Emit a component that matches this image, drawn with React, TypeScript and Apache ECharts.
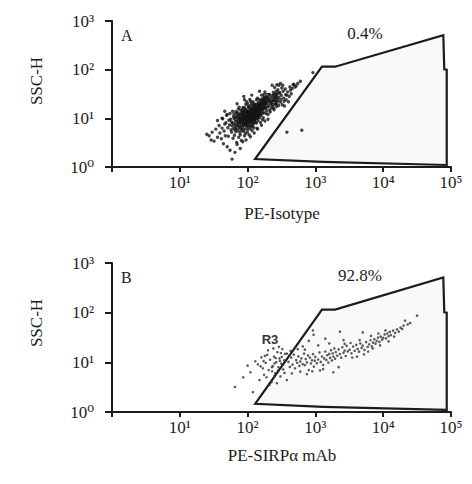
import React, { useEffect, useRef } from 'react';
import * as echarts from 'echarts';

// Gate R3 vertices (same gate in both panels)
const gateX = [129, 1250, 1950, 77000, 79600, 86500, 86500, 1300];
const gateY = [1.46, 115, 115, 510, 102, 100, 1.1, 1.27];

// Panel A: PE-Isotype vs SSC-H
const scatterA: [number, number][] = [
  [25,4.7],[27,4.4],[29,3.6],[30,5.2],[32,3.4],[34,6.0],[36,4.1],[38,7.1],[39,5.0],[36,9],
  [41,3.8],[42,6.3],[43,9.8],[44,3.0],[45,5.5],[46,7.6],[47,4.4],[48,8.1],[49,11.5],[50,2.6],
  [51,6.4],[52,4.3],[53,9.1],[54,7.3],[55,2.2],[55,12.6],[46,14],[42,10],[50,12],
  [56,9.6],[57,5.8],[58,5.2],[59,1.45],[59,7.0],[60,7.9],[61,3.9],[62,6.1],[62,10.9],[63,9.9],
  [64,4.5],[65,2.0],[65,6.9],[66,8.8],[67,5.3],[67,13.8],[68,10.8],[69,12.6],[69,3.2],[70,2.9],
  [70,7.2],[71,7.4],[72,5.6],[72,9.4],[73,8.0],[73,15.6],[74,11.5],[74,4.1],[75,6.4],[75,17.0],
  [60,14],[70,20],[76,9.8],[77,12.1],[77,5.1],[78,2.4],[78,4.6],[79,9.0],[79,14.8],[80,8.2],
  [80,6.0],[81,10.2],[81,3.5],[82,7.5],[82,11.8],[83,13.9],[83,5.6],[84,11.3],[84,8.6],[85,6.2],
  [85,3.3],[85,16.5],[86,7.0],[86,10.5],[87,5.4],[87,12.9],[88,9.5],[88,28],[89,11.9],[89,7.7],
  [90,13.4],[90,4.4],[90,24],[91,15.8],[91,9.3],[92,8.6],[92,6.0],[93,4.9],[93,11.2],[94,10.1],
  [94,19.5],[95,7.8],[95,3.6],[96,9.2],[96,13.0],[97,6.7],[97,22.0],[98,13.6],[98,8.3],[99,12.9],
  [99,5.2],[100,20],[100,10.4],[101,5.9],[101,8.0],[102,14.2],[102,11.0],[103,8.9],[103,6.8],[104,10.6],
  [104,17.0],[105,16.9],[105,4.6],[106,11.8],[106,9.0],[107,9.9],[107,13.5],[108,7.1],[108,24.5],[109,12.2],
  [109,8.4],[110,6.2],[110,4.2],[111,18.6],[111,10.8],[112,9.1],[112,15.0],[113,10.0],[113,7.0],[114,8.3],
  [114,12.7],[115,30],[115,20.5],[116,14.6],[116,5.6],[117,13.0],[117,9.6],[118,6.9],[118,16.3],[119,11.0],
  [119,8.0],[120,12.4],[120,22],[121,7.6],[121,14.0],[122,17.8],[122,10.3],[123,9.4],[124,15.1],[124,6.4],
  [125,11.9],[125,5.0],[126,9.8],[126,19.8],[127,8.7],[127,13.7],[128,13.2],[128,11.1],[129,16.6],[130,11.2],
  [130,8.2],[131,14.4],[132,19.2],[133,10.0],[134,10.4],[135,8.0],[135,24.0],[136,12.0],[137,16.2],[138,6.3],
  [139,18.0],[140,13.8],[140,26],[140,6.0],[141,10.7],[142,9.0],[143,21.0],[144,14.2],[145,11.3],[146,12.3],
  [147,17.5],[148,15.6],[149,24.0],[150,10.3],[150,36],[151,19.8],[152,13.2],[153,20.5],[155,17.4],[155,8.2],
  [156,12.1],[157,13.6],[158,11.6],[160,21.8],[160,30],[160,7.2],[162,15.3],[163,25.1],[165,14.9],[166,9.4],
  [168,16.0],[170,12.8],[170,10.3],[172,20.4],[174,13.1],[176,19.6],[178,27.0],[180,22.2],[180,8.8],[180,35],
  [182,16.1],[185,16.7],[188,12.5],[190,28.5],[190,14.3],[192,20.0],[195,23.4],[198,17.0],[200,12.0],[200,9.6],
  [205,18.2],[208,25.0],[210,31.0],[212,14.7],[215,13.5],[218,20.1],[220,22.8],[223,16.3],[225,26.4],[228,19.0],
  [230,21.0],[230,48],[233,29.5],[235,17.6],[238,23.6],[240,34.2],[243,15.9],[245,15.0],[248,27.5],[250,24.6],
  [250,43],[253,19.8],[255,19.4],[258,31.8],[260,29.0],[263,22.4],[265,36.0],[268,17.5],[270,20.0],[270,49],
  [273,26.2],[277,32.0],[280,38.5],[283,23.0],[287,18.4],[290,27.2],[290,48],[295,34.0],[300,33.0],[305,52],
  [305,21.5],[310,24.5],[315,29.6],[320,42.0],[325,19.0],[330,48],[335,36.0],[340,26],[345,22.5],[350,18],
  [360,40],[365,30.5],[370,24.0],[380,30],[390,35.0],[400,22],[410,28.0],[420,44],[430,38.0],[440,32],
  [455,41.0],[470,49],[480,50],[500,44.0],[520,46],[550,52.0],[600,58],[380,5.2],[630,5.7],[920,87],
  [64,7.7],[68,6.3],[71,11.2],[76,7.1],[79,6.6],[83,9.4],[86,12.0],[88,7.3],[91,10.9],[93,7.2],
  [95,11.6],[97,9.8],[99,7.4],[101,11.9],[103,12.8],[105,8.1],[107,11.4],[109,10.1],[111,13.6],[113,8.6],
  [115,11.5],[117,15.4],[119,9.3],[121,11.6],[123,13.3],[125,9.0],[127,15.9],[129,10.2],[131,12.6],[133,16.8],
  [135,11.2],[137,13.9],[139,10.0],[141,15.7],[143,12.4],[145,17.8],[147,13.6],[149,11.7],[152,16.4],[154,14.2],
  [157,19.2],[159,15.0],[162,18.0],[165,21.0],[168,19.4],[171,15.6],[175,23.5],[179,18.5],[183,25.5],[187,21.6],
  [58,8.4],[63,12.3],[66,5.9],[72,13.0],[78,10.6],[84,14.6],[89,16.7],[96,15.1],[102,17.6],[110,22.5],
  [66,10.1],[70,8.6],[74,9.9],[77,8.3],[81,12.8],[85,9.9],[87,8.0],[90,11.0],[92,14.1],[94,8.0],
  [96,10.4],[98,11.2],[100,8.9],[102,9.6],[104,13.0],[106,10.3],[108,14.6],[110,9.4],[112,11.9],[114,15.9],
  [116,10.7],[118,12.5],[120,14.9],[122,12.1],[124,18.6],[126,14.5],[128,17.4],[132,13.8],[136,15.3],[140,17.0],
  [144,19.6],[148,14.4],[153,18.3],[158,22.8],[163,17.2],[170,24.4],[176,16.8],[185,20.2],[195,26.2],[205,22.0]
];

// Panel B: PE-SIRPα mAb vs SSC-H
const scatterB: [number, number][] = [
  [65,3.2],[86,5.0],[120,2.5],[142,9.1],[168,7.6],[100,8.6],[110,6.3],[130,10.5],[150,4.4],[160,12.6],
  [175,5.6],[185,9.8],[195,14.2],[205,7.0],[215,11.3],[225,4.0],[235,8.4],[245,13.0],[255,6.0],[265,10.1],
  [275,16.0],[285,8.0],[295,12.0],[305,5.2],[315,9.4],[325,18.5],[335,7.2],[345,11.0],[355,14.8],[270,3.8],
  [380,4.4],[200,17.5],[180,13.5],[240,19.0],[290,20.5],[210,3.5],[190,5.0],[230,6.6],[250,9.5],[260,12.2],
  [280,6.8],[300,10.7],[310,15.4],[330,9.0],[350,6.1],[156,8.3],[172,10.6],[228,8.0],[248,5.3],[320,12.9],
  [400,10.2],[420,8.1],[440,12.5],[460,9.0],[480,14.3],[500,7.6],[520,11.1],[540,9.8],[560,13.2],[580,8.5],
  [600,10.4],[620,12.0],[650,9.2],[680,15.0],[700,8.8],[720,11.6],[750,10.0],[780,13.8],[800,7.0],[830,12.4],
  [860,9.5],[890,11.0],[920,14.6],[950,8.2],[980,10.8],[1000,12.9],[1050,9.6],[1100,11.4],[1150,15.8],[1200,10.2],
  [1250,13.1],[1300,8.9],[1350,12.0],[1400,16.5],[1450,11.2],[1500,13.9],[1550,9.9],[1600,14.8],[1650,12.3],[1700,17.6],
  [1750,10.9],[1800,15.2],[1850,13.0],[1900,19.0],[1950,11.8],[2000,16.1],[2100,13.6],[2200,18.2],[2300,14.7],[2400,12.4],
  [2500,20.1],[2600,15.6],[2700,17.3],[2800,13.4],[2900,21.5],[3000,16.6],
  [450,6.0],[600,6.5],[750,5.8],[900,6.6],[1170,6.9],[1840,6.3],[1300,7.3],[2200,8.0],[700,18.0],[500,20.0],
  [920,44],[940,36],[2300,41.5],[5000,40],[1100,22],[1600,24],[800,27],[1400,30],[2600,28],[380,15],
  [430,17],[550,18.5],[650,21],
  [3200,18.0],[3400,15.2],[3600,20.8],[3800,17.1],[4000,22.5],[4200,18.6],[4400,16.4],[4600,24.0],[4800,19.5],[5000,21.7],
  [5300,17.8],[5600,25.6],[5900,20.4],[6200,23.1],[6500,27.8],[6800,21.0],[7100,25.0],[7400,29.4],[7700,23.8],[8000,27.0],
  [8400,31.5],[8800,25.8],[9200,33.0],[9600,28.6],[10000,31.0],[10500,36.5],[11000,30.2],[11500,38.0],[12000,33.6],[12500,41.0],
  [13000,35.4],[14000,43.5],[15000,39.0],[16000,46.0],[17000,41.5],[18000,50.0],[19000,47.0],[20000,55.0],[21000,69.0],[23000,58.0],
  [25000,62.0],[31600,87.0],[3300,24.5],[4500,28.0],[6000,16.5],[7000,19.0],[9000,22.0],[12000,26.5],[3500,12.5],[5200,14.5],
  [8500,38.0],[10800,44.0],[4100,13.0],[6600,34.0],[14500,33.0],[2700,23.5]
];

const panelLetters = ['A', 'B'];
const percentLabels = ['0.4%', '92.8%'];
const xTitles = ['PE-Isotype', 'PE-SIRPα mAb'];
const yTitle = 'SSC-H';
const gateLabel = 'R3';
const superDigits = ['⁰', '¹', '²', '³', '⁴', '⁵'];

const SERIF = '"Liberation Serif", "DejaVu Serif", serif';
const INK = '#1c1c1c';

const powFmt = (hideZero: boolean) => (v: number) => {
  const e = Math.round(Math.log10(v));
  if (hideZero && e === 0) return '';
  return '10' + superDigits[e];
};

export default function App() {
  const ref = useRef<HTMLDivElement>(null);
  useEffect(() => {
    if (!ref.current) return;
    const chart = echarts.init(ref.current, undefined, { renderer: 'svg' });
    const grids = [
      { left: 112, top: 21, width: 339, height: 146 },
      { left: 112, top: 263, width: 339, height: 149 },
    ];
    const gate = gateX.map((x, i) => [x, gateY[i]]);
    const labelStyle = { fontFamily: SERIF, fontSize: 17, color: INK };
    const xAxes = grids.map((_, i) => ({
      type: 'log', logBase: 10, gridIndex: i, min: 1, max: 100000,
      axisLine: { show: true, lineStyle: { color: INK, width: 2 } },
      axisTick: { show: true, length: 5, lineStyle: { color: INK, width: 2 } },
      axisLabel: { formatter: powFmt(true), margin: 7, ...labelStyle, showMinLabel: true, showMaxLabel: true },
      splitLine: { show: false }, minorTick: { show: false },
    }));
    const yAxes = grids.map((_, i) => ({
      type: 'log', logBase: 10, gridIndex: i, min: 1, max: 1000,
      axisLine: { show: true, lineStyle: { color: INK, width: 2 } },
      axisTick: { show: true, length: 7, lineStyle: { color: INK, width: 2 } },
      axisLabel: { formatter: powFmt(false), margin: 18, ...labelStyle, showMinLabel: true, showMaxLabel: true },
      splitLine: { show: false }, minorTick: { show: false },
    }));
    const gateSeries = grids.map((_, i) => ({
      type: 'custom', xAxisIndex: i, yAxisIndex: i, silent: true, z: 1, clip: false,
      data: gate,
      renderItem: (params: any, api: any) => {
        if (params.dataIndex !== 0) return null;
        const pts = gate.map((p) => api.coord(p));
        return {
          type: 'polygon', shape: { points: pts },
          style: { fill: '#f9f9f9', stroke: INK, lineWidth: 2.2, lineJoin: 'miter' },
        };
      },
    }));
    const scatterSeries = [scatterA, scatterB].map((d, i) => ({
      type: 'scatter', xAxisIndex: i, yAxisIndex: i, silent: true, z: 3,
      data: d, symbol: 'circle', symbolSize: i === 0 ? 3.4 : 2.6,
      itemStyle: { color: i === 0 ? '#151515' : '#333' },
    }));
    const tops = [0, 242];
    const graphic: any[] = [];
    tops.forEach((dy, i) => {
      graphic.push(
        { type: 'text', left: 121, top: 27 + dy, style: { text: panelLetters[i], font: `16px ${SERIF}`, fill: INK } },
        { type: 'text', x: i === 0 ? 365 : 360, y: 33 + dy, style: { text: percentLabels[i], font: `17px ${SERIF}`, fill: INK, align: 'center', verticalAlign: 'middle' } },
        { type: 'text', x: 36, y: 81 + dy, rotation: Math.PI / 2, style: { text: yTitle, font: `17px ${SERIF}`, fill: INK, align: 'center', verticalAlign: 'middle' } },
        { type: 'text', x: 282, y: 213 + dy, style: { text: xTitles[i], font: `17px ${SERIF}`, fill: INK, align: 'center', verticalAlign: 'middle' } },
        { type: 'text', x: 270, y: 97 + dy, z: 0, style: { text: gateLabel, font: `bold 13px "Liberation Sans", Arial, sans-serif`, fill: '#333', align: 'center', verticalAlign: 'middle' } },
      );
    });
    chart.setOption({
      animation: false,
      backgroundColor: '#ffffff',
      grid: grids,
      xAxis: xAxes,
      yAxis: yAxes,
      series: [...gateSeries, ...scatterSeries],
      graphic,
    });
    return () => chart.dispose();
  }, []);
  return <div ref={ref} style={{ position: 'fixed', left: 0, top: 0, width: 472, height: 484, background: '#fff' }} />;
}
